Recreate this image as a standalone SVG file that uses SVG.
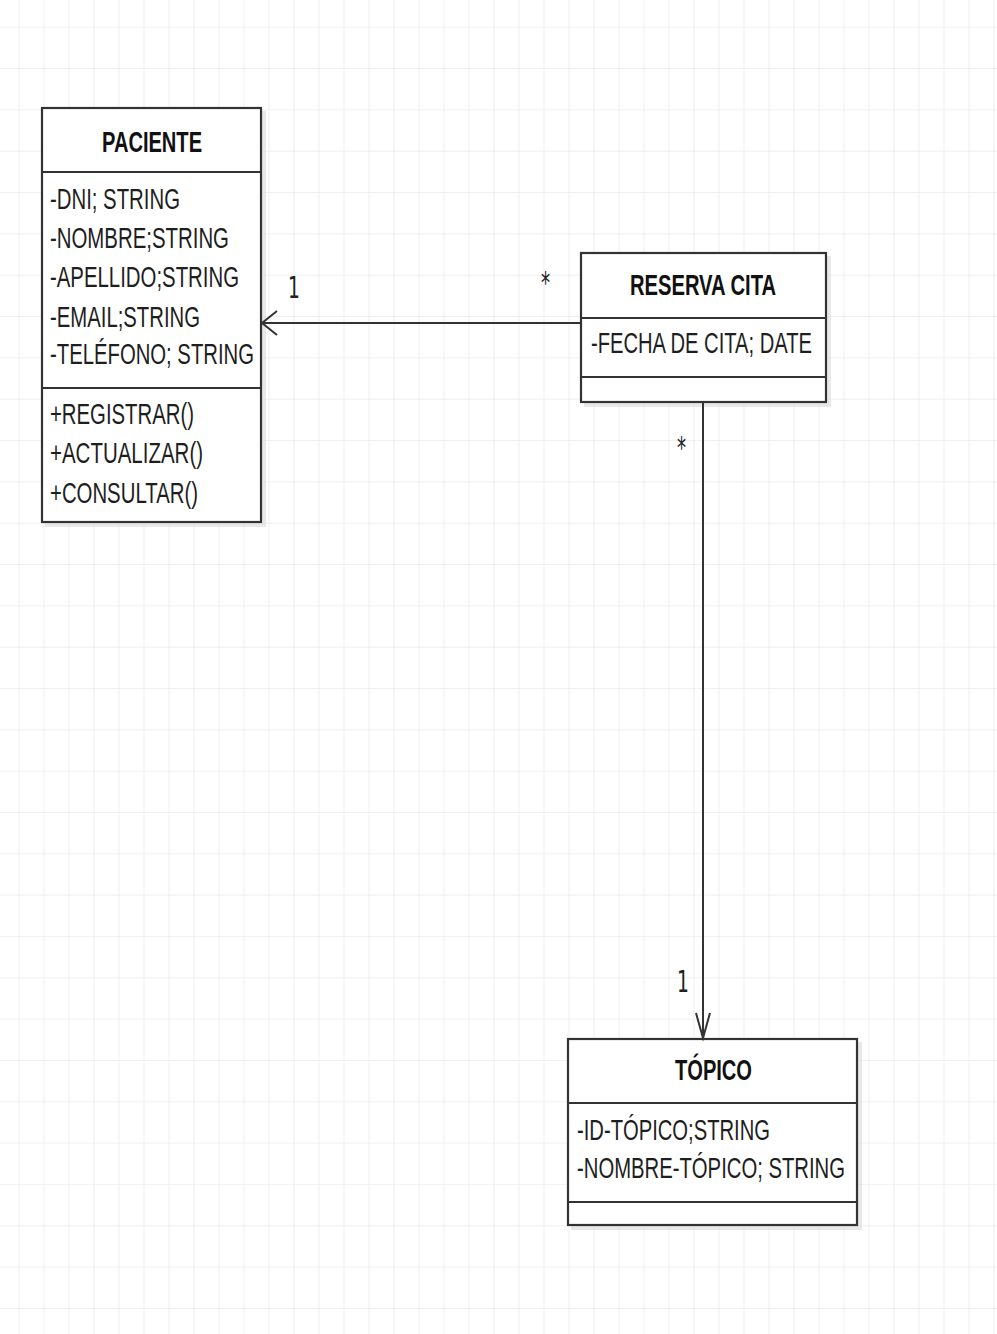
<svg xmlns="http://www.w3.org/2000/svg" width="997" height="1334" viewBox="0 0 997 1334">
<defs>
<pattern id="grid" x="18.5" y="26.7" width="25" height="41.33" patternUnits="userSpaceOnUse">
<path d="M0 0 V41.33 M0 0 H25" fill="none" stroke="#ebebeb" stroke-width="1.6"/>
</pattern>
<style>
.box{fill:#ffffff;stroke:#333333;stroke-width:2.2}
.shadow{fill:#d8d8d8;opacity:0.6}
.sep{stroke:#333333;stroke-width:2.2}
.t{font-family:"Liberation Sans",Arial,sans-serif;font-size:30px;fill:#1e1e1e}
.h{font-family:"Liberation Sans",Arial,sans-serif;font-size:30px;font-weight:bold;fill:#111111}
.lbl{font-family:"DejaVu Sans",sans-serif;font-size:30px;fill:#222222}
.conn{fill:none;stroke:#333333;stroke-width:2}
</style>
</defs>
<rect width="997" height="1334" fill="#ffffff"/>
<rect width="997" height="1334" fill="url(#grid)"/>

<g id="paciente">
<rect class="shadow" x="45" y="111" width="221" height="416"/>
<rect class="box" x="42" y="108" width="219" height="414"/>
<line class="sep" x1="42" y1="172" x2="261" y2="172"/>
<line class="sep" x1="42" y1="388" x2="261" y2="388"/>
<text class="h" transform="translate(102 0) scale(0.7 1)" x="0" y="152" textLength="142.9" lengthAdjust="spacingAndGlyphs">PACIENTE</text>
<text class="t" transform="translate(50 0) scale(0.7 1)" x="0" y="209" textLength="185.7" lengthAdjust="spacingAndGlyphs">-DNI; STRING</text>
<text class="t" transform="translate(50 0) scale(0.7 1)" x="0" y="248" textLength="255.7" lengthAdjust="spacingAndGlyphs">-NOMBRE;STRING</text>
<text class="t" transform="translate(50 0) scale(0.7 1)" x="0" y="287" textLength="270" lengthAdjust="spacingAndGlyphs">-APELLIDO;STRING</text>
<text class="t" transform="translate(50 0) scale(0.7 1)" x="0" y="327" textLength="214.3" lengthAdjust="spacingAndGlyphs">-EMAIL;STRING</text>
<text class="t" transform="translate(50 0) scale(0.7 1)" x="0" y="364" textLength="291.4" lengthAdjust="spacingAndGlyphs">-TELÉFONO; STRING</text>
<text class="t" transform="translate(50 0) scale(0.7 1)" x="0" y="424" textLength="205.7" lengthAdjust="spacingAndGlyphs">+REGISTRAR()</text>
<text class="t" transform="translate(50 0) scale(0.7 1)" x="0" y="463" textLength="218.6" lengthAdjust="spacingAndGlyphs">+ACTUALIZAR()</text>
<text class="t" transform="translate(50 0) scale(0.7 1)" x="0" y="503" textLength="211.4" lengthAdjust="spacingAndGlyphs">+CONSULTAR()</text>
</g>

<g id="reserva-cita">
<rect class="shadow" x="584" y="256" width="247" height="151"/>
<rect class="box" x="581" y="253" width="245" height="149"/>
<line class="sep" x1="581" y1="318" x2="826" y2="318"/>
<line class="sep" x1="581" y1="377" x2="826" y2="377"/>
<text class="h" transform="translate(630 0) scale(0.7 1)" x="0" y="295" textLength="208.6" lengthAdjust="spacingAndGlyphs">RESERVA CITA</text>
<text class="t" transform="translate(591 0) scale(0.7 1)" x="0" y="353" textLength="315.7" lengthAdjust="spacingAndGlyphs">-FECHA DE CITA; DATE</text>
</g>

<g id="topico">
<rect class="shadow" x="571" y="1042" width="291" height="188"/>
<rect class="box" x="568" y="1039" width="289" height="186"/>
<line class="sep" x1="568" y1="1103" x2="857" y2="1103"/>
<line class="sep" x1="568" y1="1202" x2="857" y2="1202"/>
<text class="h" transform="translate(675 0) scale(0.7 1)" x="0" y="1080" textLength="110" lengthAdjust="spacingAndGlyphs">TÓPICO</text>
<text class="t" transform="translate(577 0) scale(0.7 1)" x="0" y="1140" textLength="275.7" lengthAdjust="spacingAndGlyphs">-ID-TÓPICO;STRING</text>
<text class="t" transform="translate(577 0) scale(0.7 1)" x="0" y="1178" textLength="382.9" lengthAdjust="spacingAndGlyphs">-NOMBRE-TÓPICO; STRING</text>
</g>

<g id="connectors">
<path class="conn" d="M581 323 H262"/>
<path class="conn" d="M277 311 L262 323 L277 335"/>
<text class="lbl" transform="translate(288 0) scale(0.7 1)" x="0" y="298" textLength="17" lengthAdjust="spacingAndGlyphs">1</text>
<text class="lbl" transform="translate(541 0) scale(0.7 1)" x="0" y="293" font-size="20" textLength="13" lengthAdjust="spacingAndGlyphs">*</text>
<path class="conn" d="M703 402 V1038"/>
<path class="conn" d="M696 1013 L703 1038 L710 1013"/>
<text class="lbl" transform="translate(677 0) scale(0.7 1)" x="0" y="458" font-size="20" textLength="13" lengthAdjust="spacingAndGlyphs">*</text>
<text class="lbl" transform="translate(677 0) scale(0.7 1)" x="0" y="992" textLength="17" lengthAdjust="spacingAndGlyphs">1</text>
</g>
</svg>
